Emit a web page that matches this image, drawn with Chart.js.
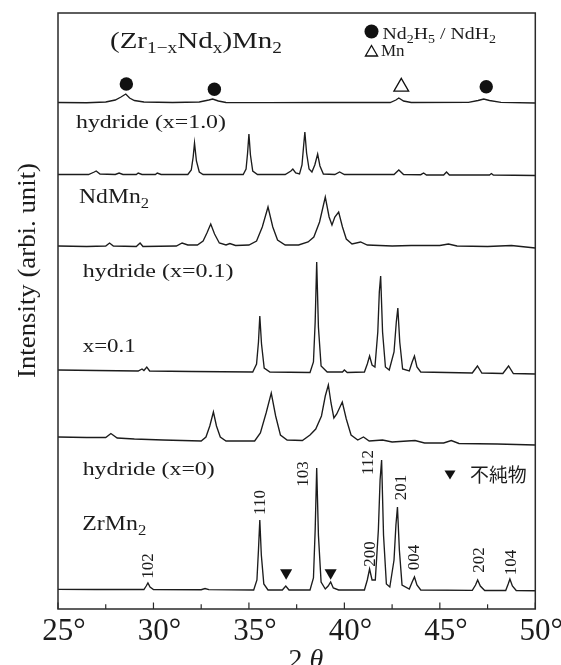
<!DOCTYPE html>
<html><head><meta charset="utf-8">
<script src="https://cdn.jsdelivr.net/npm/chart.js@4.4.1/dist/chart.umd.min.js"></script>
<style>html,body{margin:0;padding:0;background:#fff;}#wrap{width:561px;height:665px;}</style>
</head><body><div id="wrap"><canvas id="c" width="561" height="665"></canvas></div>
<script>
// ---- data (2θ in degrees, intensity in arbitrary units above each trace's baseline) ----
const traceNames = ['Nd hydride (x=1.0)', 'NdMn2', 'hydride (x=0.1)', 'x=0.1', 'hydride (x=0)', 'ZrMn2'];
const traceOffsets = [506, 434, 362, 237, 168, 19];

const traceHydrideX10 = [[25,0.5],[26.5,0.3],[27.5,1],[28.0,3],[28.3,6],[28.55,9],[28.75,5],[29.0,2.5],[29.5,1],[31,0.5],[32.4,1],[32.9,3],[33.1,4],[33.4,2],[33.8,0.5],[36,0.3],[39,0.5],[42.4,0.5],[42.7,3],[42.85,5],[43.1,2],[43.5,0.5],[46.5,0.7],[47.0,2.5],[47.3,4],[47.6,2.5],[48.2,0.7],[50,0]];

const traceNdMn2 = [[25,0.5],[26.6,0.5],[26.9,3],[27.0,4],[27.2,1],[28.0,0.5],[28.2,2],[28.4,0.5],[29.1,0.5],[29.2,2],[29.4,0.5],[30.1,0.5],[30.2,2],[30.4,0.5],[31.8,0.5],[31.98,5],[32.08,18],[32.15,32],[32.25,14],[32.4,3],[32.6,0.5],[34.7,0.5],[34.85,6],[34.93,22],[35.0,41],[35.08,20],[35.2,4],[35.45,0.5],[36.9,0.5],[37.2,4],[37.3,6],[37.45,2],[37.65,1],[37.78,10],[37.86,28],[37.93,43],[38.02,22],[38.15,6],[38.3,3],[38.45,10],[38.6,21],[38.72,9],[38.9,1],[39.5,0.5],[39.75,3],[40.0,0.5],[42.6,0.5],[42.85,5],[43.1,0.5],[44.0,0.3],[44.15,2],[44.3,0],[45.2,0],[45.35,3],[45.5,0],[47.6,0],[47.7,1.5],[47.8,0],[50,-0.5]];

const traceHydrideX01 = [[25,1],[26.5,0.5],[27.5,1],[27.7,4],[27.9,1],[29.1,0.5],[29.3,4],[29.45,0.5],[31.2,1],[31.5,4],[31.8,2],[32.3,2],[32.6,6],[32.8,14],[33.0,23],[33.2,13],[33.45,4],[33.8,2],[34.0,3.5],[34.3,1.5],[35.0,2],[35.4,6],[35.7,20],[36.0,40],[36.25,20],[36.5,7],[36.9,2],[37.6,2],[38.1,5],[38.4,10],[38.7,25],[39.0,50],[39.2,30],[39.35,22],[39.5,30],[39.7,35],[39.9,20],[40.1,8],[40.4,3],[40.85,5],[41.2,2],[42.5,1],[43.5,1.5],[45.0,1.5],[45.45,3],[45.9,1],[47.5,0.5],[48.75,1.5],[50,-1]];

const traceX01 = [[25,2],[27,1.5],[29.2,1],[29.4,3],[29.5,1.5],[29.65,5],[29.8,1],[32,0.5],[35.2,0],[35.4,8],[35.5,30],[35.57,56],[35.66,28],[35.8,4],[36.1,0],[38.2,-0.5],[38.38,10],[38.47,50],[38.55,110],[38.64,45],[38.78,6],[39.1,0],[39.9,0],[40.0,2],[40.15,-0.5],[41.05,0],[41.2,8],[41.32,16],[41.45,7],[41.6,5],[41.75,40],[41.83,80],[41.9,96],[42.0,40],[42.15,5],[42.35,2],[42.6,20],[42.72,50],[42.8,64],[42.9,30],[43.05,3],[43.4,1],[43.55,10],[43.67,16],[43.8,5],[44.0,0],[46.7,-1],[46.97,6],[47.2,-1],[48.3,-1.5],[48.6,6],[48.85,-1.5],[50,-2]];

const traceHydrideX0 = [[25,4],[26.5,3.5],[27.5,3.5],[27.77,7.5],[28.1,3],[29,2],[30.5,1],[32.5,0],[32.75,4],[32.95,15],[33.14,29],[33.3,15],[33.5,4],[33.8,0],[35.3,0],[35.6,8],[35.9,28],[36.17,48],[36.4,25],[36.65,6],[37.0,1],[37.8,0.5],[38.2,6],[38.5,12],[38.8,25],[39.0,45],[39.16,56],[39.3,38],[39.45,23],[39.6,27],[39.89,39],[40.1,22],[40.35,6],[40.7,1],[41.0,4],[41.3,0],[42.0,1],[42.5,-1],[43.7,0.5],[44.2,-2],[45.2,-2],[45.6,0.5],[46.0,-2.5],[48,-3],[50,-4]];

const traceZrMn2 = [[25,0.7],[27,0.5],[29.5,0.5],[29.62,4],[29.71,7],[29.82,3],[30,0.5],[32.5,0.3],[32.7,1.5],[32.9,0.3],[35.25,0],[35.42,10],[35.5,40],[35.57,70],[35.65,35],[35.78,6],[36.0,0],[36.75,0],[36.93,4],[37.1,0],[38.2,0],[38.38,12],[38.47,60],[38.55,122],[38.64,55],[38.78,8],[39.0,1],[39.15,4],[39.28,8],[39.42,2],[39.7,0],[41.05,0],[41.2,10],[41.32,21],[41.45,10],[41.62,10],[41.78,60],[41.87,110],[41.95,130],[42.05,55],[42.2,6],[42.38,3],[42.6,30],[42.7,65],[42.78,83],[42.88,40],[43.02,5],[43.4,1],[43.55,8],[43.67,13],[43.8,5],[44.0,0],[46.7,-0.3],[46.87,5],[46.98,10],[47.12,4],[47.35,-0.5],[48.45,-0.5],[48.58,6],[48.67,11],[48.8,4],[49.0,-0.5],[50,-0.7]];

// phase markers (2θ, vertical position)
const ndHydrideMarks = [[28.58,525],[33.19,519.7],[47.43,522.3]];
const mnMarks = [[42.98,522.2]];
const impurityMarks = [[36.95,36.2],[39.28,36.2]];

// tick values / labels
const xMin = 25, xMax = 50, xStep = 2.5, xLabelEvery = 5;

const traces = [traceHydrideX10, traceNdMn2, traceHydrideX01, traceX01, traceHydrideX0, traceZrMn2];

// ---- chart ----
const INK = '#1c1c1c';
const SERIF = '"Liberation Serif", "Times New Roman", serif';

const datasets = traces.map((t, i) => ({
  type: 'line',
  label: traceNames[i],
  data: t.map(([x, y]) => ({x, y: y + traceOffsets[i]})),
  borderColor: INK, borderWidth: 1.35, pointRadius: 0, tension: 0, fill: false
}));
datasets.push({
  type: 'scatter', label: 'Nd2H5 / NdH2',
  data: ndHydrideMarks.map(([x, y]) => ({x, y})),
  pointStyle: 'circle', pointRadius: 6.7, backgroundColor: '#111', borderColor: '#111', borderWidth: 0
});
datasets.push({
  type: 'scatter', label: 'Mn',
  data: mnMarks.map(([x, y]) => ({x, y})),
  pointStyle: 'triangle', pointRadius: 8.5, backgroundColor: '#fff', borderColor: '#111', borderWidth: 1.3
});
datasets.push({
  type: 'scatter', label: '不純物',
  data: impurityMarks.map(([x, y]) => ({x, y})),
  pointStyle: 'triangle', rotation: 180, pointRadius: 7, backgroundColor: '#111', borderColor: '#111', borderWidth: 0
});

function runsWidth(ctx, runs) {
  let w = 0;
  for (const r of runs) { ctx.font = (r.italic ? 'italic ' : '') + r.size + 'px ' + (r.family || SERIF); w += ctx.measureText(r.t).width; }
  return w;
}
function drawRuns(ctx, x, y, runs, width, opts = {}) {
  const nat = runsWidth(ctx, runs);
  const sx = width ? width / nat : (opts.sx || 1);
  ctx.save();
  ctx.translate(x, y);
  if (opts.rotate) ctx.rotate(-Math.PI / 2);
  ctx.scale(sx, 1);
  ctx.fillStyle = INK;
  ctx.textBaseline = opts.baseline || 'alphabetic';
  let cx = opts.center ? -nat / 2 : 0;
  for (const r of runs) {
    ctx.font = (r.italic ? 'italic ' : '') + r.size + 'px ' + (r.family || SERIF);
    ctx.textAlign = 'left';
    ctx.fillText(r.t, cx, r.dy || 0);
    cx += ctx.measureText(r.t).width;
  }
  ctx.restore();
}

const peakLabels = [
  ['102',149,566],['110',261,502.5],['103',304,474],['112',368.3,462.5],['201',401.7,487.5],
  ['200',370.7,554],['004',415,557.5],['202',479.3,560],['104',511.7,562.5]
];

const decor = {
  id: 'decor',
  afterDraw(chart) {
    const {ctx, chartArea: a, scales: {x}} = chart;
    ctx.save();
    // frame
    ctx.strokeStyle = '#2a2a2a'; ctx.lineWidth = 1.5;
    ctx.strokeRect(a.left, a.top, a.right - a.left, a.bottom - a.top);
    // inward ticks
    ctx.lineWidth = 1.2;
    for (const t of x.ticks) {
      const px = x.getPixelForValue(t.value);
      const major = Math.abs(t.value % xLabelEvery) < 1e-6;
      ctx.beginPath(); ctx.moveTo(px, a.bottom); ctx.lineTo(px, a.bottom - (major ? 6.5 : 4.7)); ctx.stroke();
    }
    // title
    drawRuns(ctx, 110, 48, [
      {t:'(Zr', size:24}, {t:'1\u2212x', size:16, dy:5}, {t:'Nd', size:24}, {t:'x', size:16, dy:5},
      {t:')Mn', size:24}, {t:'2', size:16, dy:5}], 172);
    // legend
    ctx.fillStyle = '#111';
    ctx.beginPath(); ctx.arc(371.5, 31.5, 7, 0, Math.PI * 2); ctx.fill();
    drawRuns(ctx, 382.5, 39.3, [
      {t:'Nd', size:17}, {t:'2', size:12, dy:4}, {t:'H', size:17}, {t:'5', size:12, dy:4},
      {t:' / NdH', size:17}, {t:'2', size:12, dy:4}], 113.5);
    ctx.strokeStyle = '#111'; ctx.lineWidth = 1.3;
    const tr = 7, tcx = 371.5, tcy = 52.5;
    ctx.beginPath();
    ctx.moveTo(tcx, tcy - tr);
    ctx.lineTo(tcx + tr * Math.sin(2 * Math.PI / 3), tcy + tr / 2);
    ctx.lineTo(tcx - tr * Math.sin(2 * Math.PI / 3), tcy + tr / 2);
    ctx.closePath(); ctx.stroke();
    drawRuns(ctx, 381, 55.5, [{t:'Mn', size:17}], null);
    // sample labels
    drawRuns(ctx, 76, 128, [{t:'hydride (x=1.0)', size:19}], 150);
    drawRuns(ctx, 79, 203, [{t:'NdMn', size:20}, {t:'2', size:14, dy:5}], 70);
    drawRuns(ctx, 82.7, 276.5, [{t:'hydride (x=0.1)', size:19}], 150.7);
    drawRuns(ctx, 82.7, 351.7, [{t:'x=0.1', size:19}], 53);
    drawRuns(ctx, 82.7, 475, [{t:'hydride (x=0)', size:19}], 132);
    drawRuns(ctx, 82.3, 530, [{t:'ZrMn', size:20}, {t:'2', size:14, dy:5}], 64);
    // impurity legend
    ctx.fillStyle = '#111';
    ctx.beginPath(); ctx.moveTo(444.5, 470.5); ctx.lineTo(455.5, 470.5); ctx.lineTo(450, 479.5); ctx.closePath(); ctx.fill();
    drawRuns(ctx, 470, 474.5, [{t:'不純物', size:19, family:'"Noto Sans CJK JP", sans-serif'}], 56.7, {baseline:'middle'});
    // peak (hkl) labels, rotated
    for (const [t, px, py] of peakLabels) {
      drawRuns(ctx, px, py, [{t, size:17}], null, {rotate:true, center:true, baseline:'middle'});
    }
    // axis titles
    drawRuns(ctx, 28, 270.5, [{t:'Intensity (arbi. unit)', size:26}], 215, {rotate:true, center:true, baseline:'middle'});
    drawRuns(ctx, 306, 668, [{t:'2 ', size:28}, {t:'\u03b8', size:28, italic:true}], null, {center:true});
    ctx.restore();
  }
};

new Chart(document.getElementById('c'), {
  data: {datasets},
  options: {
    responsive: false, animation: false, devicePixelRatio: 1,
    layout: {padding: {top: 13, right: 24, left: 0, bottom: 0}},
    plugins: {legend: {display: false}, tooltip: {enabled: false}},
    scales: {
      x: {
        type: 'linear', min: xMin, max: xMax,
        grid: {display: false, drawTicks: false},
        border: {display: false},
        ticks: {
          stepSize: xStep, autoSkip: false, maxRotation: 0, padding: 4, labelOffset: 6,
          color: INK, font: {family: SERIF, size: 31},
          callback: v => (Math.abs(v % xLabelEvery) < 1e-6 ? v + '\u00b0' : '')
        },
        afterFit: s => { s.height = 56; }
      },
      y: {
        type: 'linear', min: 0, max: 596,
        grid: {display: false, drawTicks: false},
        border: {display: false},
        ticks: {display: false},
        afterFit: s => { s.width = 58; }
      }
    }
  },
  plugins: [decor]
});
</script></body></html>
